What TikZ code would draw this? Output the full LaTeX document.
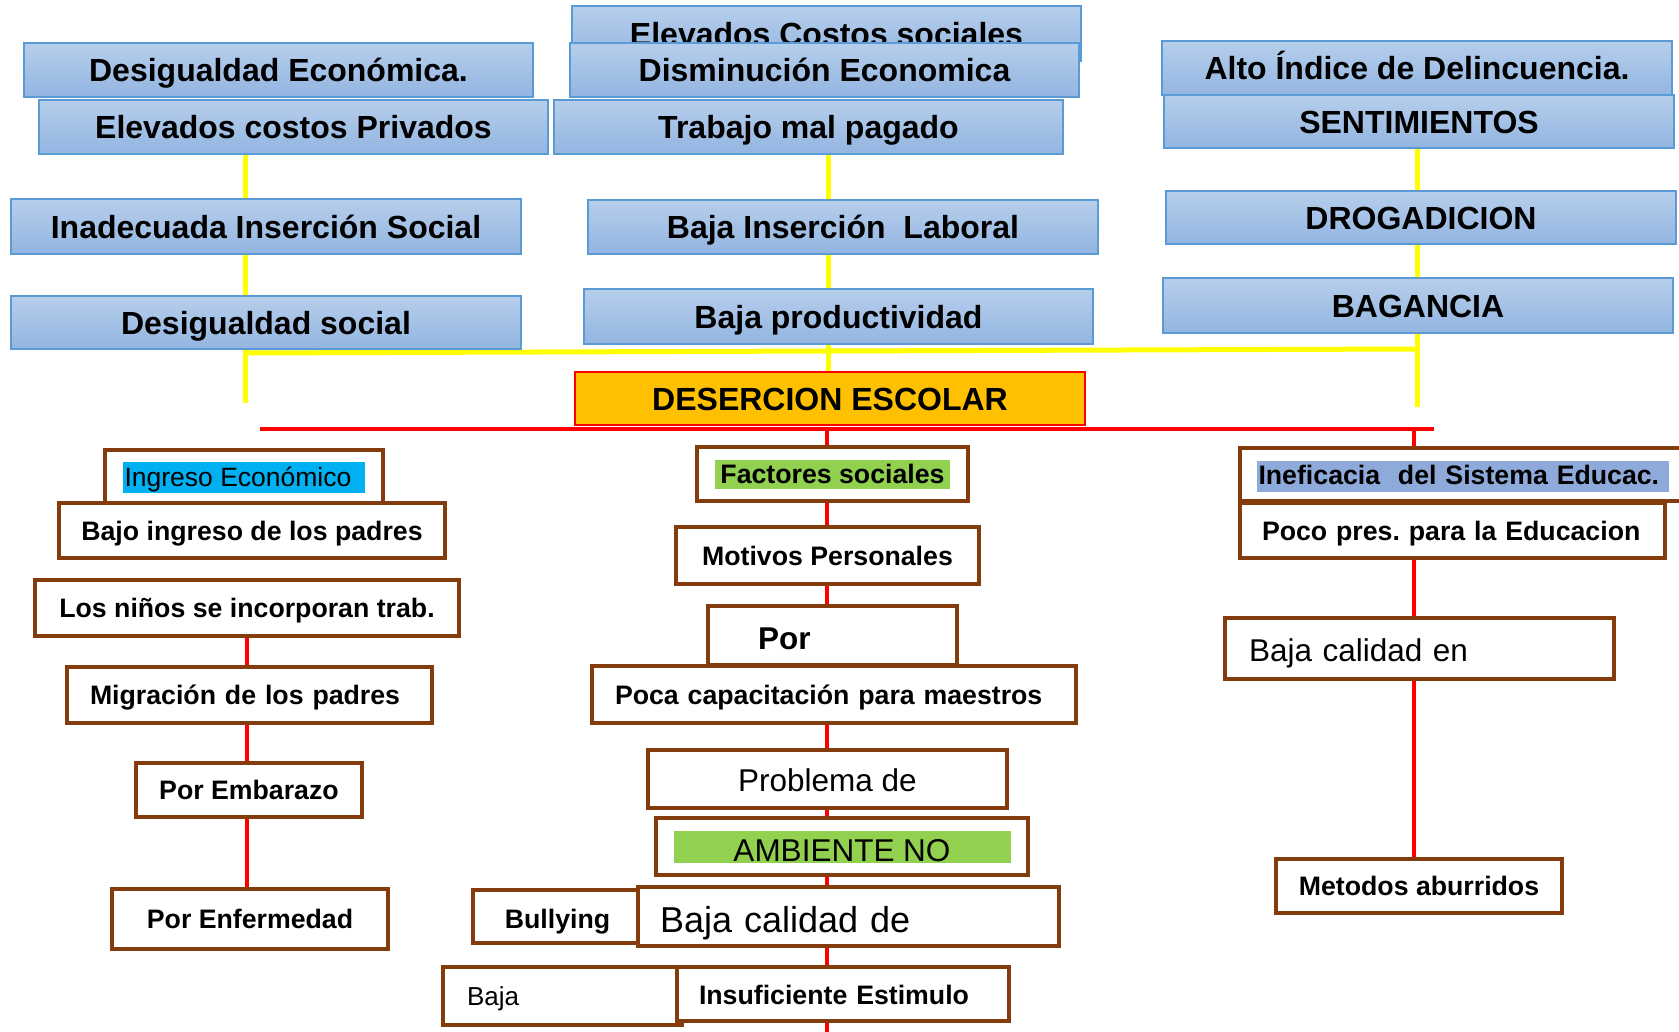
\documentclass[tikz,border=0pt]{standalone}
\usepackage{fontspec}
\setmainfont{Liberation Sans}
\definecolor{bluetop}{RGB}{182,206,235}
\definecolor{bluebot}{RGB}{147,181,225}
\definecolor{blueedge}{RGB}{91,155,213}
\definecolor{brownc}{RGB}{132,60,12}
\definecolor{redl}{RGB}{255,0,0}
\definecolor{yell}{RGB}{255,255,0}
\definecolor{orangec}{RGB}{255,192,0}
\definecolor{hlcyan}{RGB}{0,176,240}
\definecolor{hlgreen}{RGB}{146,208,80}
\definecolor{hlblue}{RGB}{142,170,219}
\pgfdeclarelayer{background}
\pgfsetlayers{background,main}
\newcommand\myhl[2]{{\setlength{\fboxsep}{1.5pt}\colorbox{#1}{#2}}}
\tikzset{
 bx/.style args={#1/#2/#3/#4}{at={({(#1+#3)/2},{(#2+#4)/2})},minimum width={(#3-#1)*1pt},minimum height={(#4-#2)*1pt}},
 bxl/.style args={#1/#2/#3/#4/#5}{at={({(#1+#3)/2},{(#2+#4)/2})},minimum height={(#4-#2)*1pt},text width={(#3-#1-2*#5)*1pt},inner xsep={#5*1pt},align=left},
 bluebox/.style={draw=blueedge,line width=1.5pt,top color=bluetop,bottom color=bluebot,inner sep=0pt,font=\fontsize{32}{36}\selectfont\bfseries,text height=24pt,text depth=0.6pt},
 brownbox/.style={draw=brownc,line width=4.5pt,fill=white,inner sep=0pt,font=\fontsize{26.7}{28}\selectfont\bfseries,text height=20pt,text depth=0.5pt},
 reg/.style={font=\fontsize{#1}{#1}\selectfont},
 yline/.style={draw=yell,line width=5pt},
 rline/.style={draw=redl,line width=4.5pt},
}
\begin{document}
\frenchspacing
\begin{tikzpicture}[x=1pt,y=-1pt]
\useasboundingbox (0,0) rectangle (1679,1032);
% top blue boxes
\node[bluebox,bx=572/6/1081/61,text height=25pt,text depth=0pt] (elevSoc) {Elevados Costos sociales};
\node[bluebox,bx=24/43/533/97] (desEco) {Desigualdad Económica.};
\node[bluebox,bx=570/43/1079/97] (disEco) {Disminución Economica};
\node[bluebox,bx=1164/95/1674/148] (sentim) {SENTIMIENTOS};
\node[bluebox,bx=1162/41/1672/95] (altoInd) {Alto Índice de Delincuencia.};
\node[bluebox,bx=39/100/548/154] (elevPriv) {Elevados costos Privados};
\node[bluebox,bx=554/100/1063/154] (trabajo) {Trabajo mal pagado};
\node[bluebox,bx=11/199/521/254] (inadec) {Inadecuada Inserción Social};
\node[bluebox,bx=588/200/1098/254] (bajaIns) {Baja Inserción\ \ Laboral};
\node[bluebox,bx=1166/191/1676/244] (drog) {DROGADICION};
\node[bluebox,bx=11/296/521/349] (desSoc) {Desigualdad social};
\node[bluebox,bx=584/289/1093/344] (bajaProd) {Baja productividad};
\node[bluebox,bx=1163/278/1673/333] (bagan) {BAGANCIA};
% central box
\node[draw=redl,line width=1.2pt,fill=orangec,inner sep=0pt,font=\fontsize{32}{34}\selectfont\bfseries,text height=24pt,text depth=1pt,bx=575/372/1085/425] (deser) {DESERCION ESCOLAR};
% left column
\node[brownbox,bx=105/450/383/503,reg=26.5] (ingreso) {\myhl{hlcyan}{\rule[-4.8pt]{0pt}{28pt}Ingreso Económico\hspace{12pt}}};
\node[brownbox,bx=59/503/445/558] (bajoIng) {Bajo ingreso de los padres};
\node[brownbox,bx=35/580/459/636] (ninos) {Los niños se incorporan trab.};
\node[brownbox,bxl=67/667/432/723/23] (migr) {Migración de los padres};
\node[brownbox,bx=136/763/362/817] (emb) {Por Embarazo};
\node[brownbox,bx=112/889/388/949] (enf) {Por Enfermedad};
% middle column
\node[brownbox,bx=697/447/968/501] (fact) {\myhl{hlgreen}{\rule[-4.2pt]{0pt}{26.7pt}\hspace{3.5pt}Factores sociales\hspace{3.5pt}}};
\node[brownbox,bx=676/527/979/584] (motiv) {Motivos Personales};
\node[brownbox,bxl=708/606/957/665/50,font=\fontsize{31.5}{34}\selectfont\bfseries,text height=29pt,text depth=0.5pt] (por) {Por};
\node[brownbox,bxl=592/666/1076/723/23] (poca) {Poca capacitación para maestros};
\node[brownbox,reg=31.5,bx=648/750/1007/808,text height=25.5pt,text depth=0pt] (probl) {Problema de};
\node[brownbox,reg=31.5,bx=656/818/1028/875,text height=31pt,text depth=1pt] (amb) {\myhl{hlgreen}{\makebox[334pt]{\rule{0pt}{29.2pt}AMBIENTE NO}}};
\node[brownbox,bx=473/890/642/943,text height=24.5pt,text depth=0.5pt] (bully) {Bullying};
\node[brownbox,reg=36,bxl=638/887/1059/946/22,text height=31pt,text depth=0pt] (bajaCal) {Baja calidad de};
\node[brownbox,reg=26,bxl=443/967/682/1025/24] (baja) {Baja};
\node[brownbox,bxl=677/967/1009/1021/22,text height=22pt,text depth=0.5pt] (insuf) {Insuficiente Estimulo};
% right column
\node[brownbox,bxl=1240/448/1690/501/17] (inef) {\myhl{hlblue}{\rule[-6.5pt]{0pt}{28pt}Ineficacia\ \ del Sistema Educac.\hspace{8pt}}};
\node[brownbox,bxl=1240/503/1665/558/22] (poco) {Poco pres. para la Educacion};
\node[brownbox,reg=31.5,bxl=1225/618/1614/679/24,text height=25.5pt,text depth=0.5pt] (bajaEn) {Baja calidad en};
\node[brownbox,bx=1276/859/1562/913] (metod) {Metodos aburridos};
% connectors
\coordinate (ly) at (245,0);
\coordinate (my) at (828,0);
\coordinate (ry) at (1417,0);
\coordinate (lyEnd) at (245,403);
\coordinate (ryEnd) at (1417,407);
\coordinate (yj1) at (245,353);
\coordinate (yj2) at (1417,349);
\coordinate (rl) at (260,429);
\coordinate (rr) at (1434,429);
\coordinate (mrTop) at (827,429);
\coordinate (mrBot) at (827,1032);
\coordinate (rrTop) at (1414,429);
\coordinate (rx) at (1414,0);
\coordinate (lx) at (247,0);
\begin{pgfonlayer}{background}
\draw[yline] (elevPriv.south -| ly) -- (lyEnd);
\draw[yline] (trabajo.south -| my) -- (deser.north -| my);
\draw[yline] (sentim.south -| ry) -- (ryEnd);
\draw[yline] (yj1) -- (yj2);
\draw[rline] (rl) -- (rr);
\draw[rline] (mrTop) -- (mrBot);
\draw[rline] (rrTop) -- (metod.north -| rx);
\draw[rline] (ninos.south -| lx) -- (enf.north -| lx);
\end{pgfonlayer}
\end{tikzpicture}
\end{document}
